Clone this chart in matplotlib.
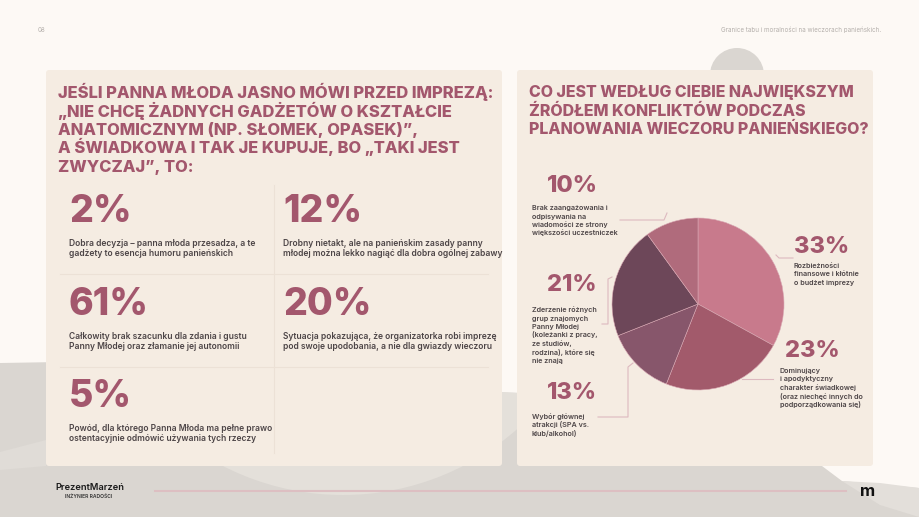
import numpy as np
import matplotlib.pyplot as plt
from matplotlib.patches import FancyBboxPatch, Polygon, Circle

plt.rcParams['font.family'] = ['Inter', 'DejaVu Sans']

# left panel: answers to the question
left_title = ["JEŚLI PANNA MŁODA JASNO MÓWI PRZED IMPREZĄ:",
              "„NIE CHCĘ ŻADNYCH GADŻETÓW O KSZTAŁCIE",
              "ANATOMICZNYM (NP. SŁOMEK, OPASEK)”,",
              "A ŚWIADKOWA I TAK JE KUPUJE, BO „TAKI JEST",
              "ZWYCZAJ”, TO:"]
left_values = [2, 12, 61, 20, 5]
left_labels = [
    ["Dobra decyzja – panna młoda przesadza, a te", "gadżety to esencja humoru panieńskich"],
    ["Drobny nietakt, ale na panieńskim zasady panny", "młodej można lekko nagiąć dla dobra ogólnej zabawy"],
    ["Całkowity brak szacunku dla zdania i gustu", "Panny Młodej oraz złamanie jej autonomii"],
    ["Sytuacja pokazująca, że organizatorka robi imprezę", "pod swoje upodobania, a nie dla gwiazdy wieczoru"],
    ["Powód, dla którego Panna Młoda ma pełne prawo", "ostentacyjnie odmówić używania tych rzeczy"],
]

# right panel: pie chart
right_title = ["CO JEST WEDŁUG CIEBIE NAJWIĘKSZYM",
               "ŹRÓDŁEM KONFLIKTÓW PODCZAS",
               "PLANOWANIA WIECZORU PANIEŃSKIEGO?"]
pie_values = [33, 23, 13, 21, 10]
pie_labels = [
    ["Rozbieżności", "finansowe i kłótnie", "o budżet imprezy"],
    ["Dominujący", "i apodyktyczny", "charakter świadkowej", "(oraz niechęć innych do", "podporządkowania się)"],
    ["Wybór głównej", "atrakcji (SPA vs.", "klub/alkohol)"],
    ["Zderzenie różnych", "grup znajomych", "Panny Młodej", "(koleżanki z pracy,", "ze studiów,",
     "rodzina), które się", "nie znają"],
    ["Brak zaangażowania i", "odpisywania na", "wiadomości ze strony", "większości uczestniczek"],
]
pie_colors = ["#C87A8C", "#A25A6B", "#87566B", "#6D4759", "#B06B7C"]

page_bg = "#FDF9F5"
panel_bg = "#F5ECE2"
grey = "#DAD6D1"
accent = "#A3576D"
body = "#4D4547"


def lines(x, y0, rows, step, **kw):
    for i, row in enumerate(rows):
        ax.text(x, y0 + i * step, row, va="baseline", zorder=3, **kw)


fig = plt.figure(figsize=(9.19, 5.17), dpi=100)
fig.patch.set_facecolor(page_bg)
ax = fig.add_axes([0, 0, 1, 1])
ax.set_facecolor(page_bg)

# background shapes
hill = Polygon([(0, 363), (60, 362), (200, 372), (400, 388), (520, 393),
                (700, 400), (790, 430), (822, 466), (842, 481), (919, 488),
                (919, 517), (0, 517)], closed=True, color=grey, lw=0, zorder=0)
ax.add_patch(hill)
ax.add_patch(Polygon([(842, 481), (880, 483), (919, 488), (919, 517), (880, 505)],
                     closed=True, color="#E3DFDA", lw=0, zorder=0))
ax.add_patch(Polygon([(0, 452), (46, 440), (46, 466), (0, 470)],
                     closed=True, color="#E0DCD7", lw=0, zorder=0))
glow = Circle((343, 232), 263, color="#E4E0DA", lw=0, zorder=0.5)
ax.add_patch(glow)
glow.set_clip_path(hill)
ax.add_patch(Circle((737, 75), 27, color=grey, lw=0, zorder=0.5))

# panels
for x0, x1 in [(46, 502), (517, 873)]:
    ax.add_patch(FancyBboxPatch((x0, 70), x1 - x0, 396,
                                boxstyle="round,pad=0,rounding_size=3",
                                fc=panel_bg, ec="none", zorder=1))

# header
ax.text(38, 30, "08", fontsize=4.5, color="#B5B0AC", va="center", zorder=3)
ax.text(881, 30, "Granice tabu i moralności na wieczorach panieńskich.",
        fontsize=4.5, color="#B5B0AC", va="center", ha="right", zorder=3)

# left title
lines(58, 98, left_title, 18.5, fontsize=11.9, fontweight="heavy", color=accent)

# grid lines
ax.plot([274, 274], [185, 453], color="#ECE1D6", lw=0.8, zorder=2)
for yy in [274, 367]:
    ax.plot([60, 488], [yy, yy], color="#ECE1D6", lw=0.8, zorder=2)

cells = [(69, 222), (283, 222), (69, 315), (283, 315), (69, 407)]
for (cx, cy), v, lab in zip(cells, left_values, left_labels):
    ax.text(cx, cy, f"{v}%", fontsize=27, fontweight="heavy", color=accent,
            va="baseline", zorder=3)
    lines(cx, cy + 24, lab, 10, fontsize=6.1, fontweight="semibold", color=body)

# right title
lines(529, 97, right_title, 18.5, fontsize=11.45, fontweight="heavy", color=accent)

# pie (y axis is inverted, so start at -90 and go counterclockwise in data)
ax.pie(pie_values, colors=pie_colors, startangle=-90, counterclock=True,
       center=(698, 304), radius=86, frame=True,
       wedgeprops=dict(edgecolor="#D9A8B3", linewidth=0.4, zorder=2))

# pie labels: number position, text position
lab_pos = [(794, 253, 794, 268), (785, 357, 780, 373), (547, 399, 532, 419),
           (547, 291, 532, 312), (547, 192, 532, 210)]
for (nx, ny, tx, ty), v, lab in zip(lab_pos, pie_values, pie_labels):
    ax.text(nx, ny, f"{v}%", fontsize=17, fontweight="heavy", color=accent,
            va="baseline", zorder=3)
    lines(tx, ty, lab, 8.5, fontsize=5.2, fontweight="semibold", color=body)

# leader lines
leader = "#DDB9BF"
ax.plot([620, 664, 667], [220, 220, 213], color=leader, lw=0.8, zorder=3)
ax.plot([776, 779, 793], [255, 258, 258], color=leader, lw=0.8, zorder=3)
ax.plot([742, 773], [379, 379], color=leader, lw=0.8, zorder=3)
ax.plot([598, 628, 628, 633], [417, 417, 367, 363], color=leader, lw=0.8, zorder=3)
ax.plot([602, 608, 608, 612], [324, 324, 279, 277], color=leader, lw=0.8, zorder=3)

# footer
ax.plot([155, 846], [490.7, 490.7], color="#DDBFC2", lw=1.5, zorder=3)
ax.text(55, 490, "PrezentMarzeń", fontsize=6.7, fontweight="semibold",
        color="#1A1A1A", va="baseline", zorder=3)
ax.text(89, 497, "INŻYNIER RADOŚCI", fontsize=3.6, fontweight="semibold",
        color="#333333", va="center", ha="center", zorder=3)
ax.text(868, 491, "m", fontsize=12, fontweight="bold", color="#111111",
        va="center", ha="center", zorder=3)

ax.set_xlim(0, 919)
ax.set_ylim(517, 0)
ax.set_aspect("auto")
ax.axis("off")

fig.savefig("out.png", dpi=100, facecolor=page_bg)
